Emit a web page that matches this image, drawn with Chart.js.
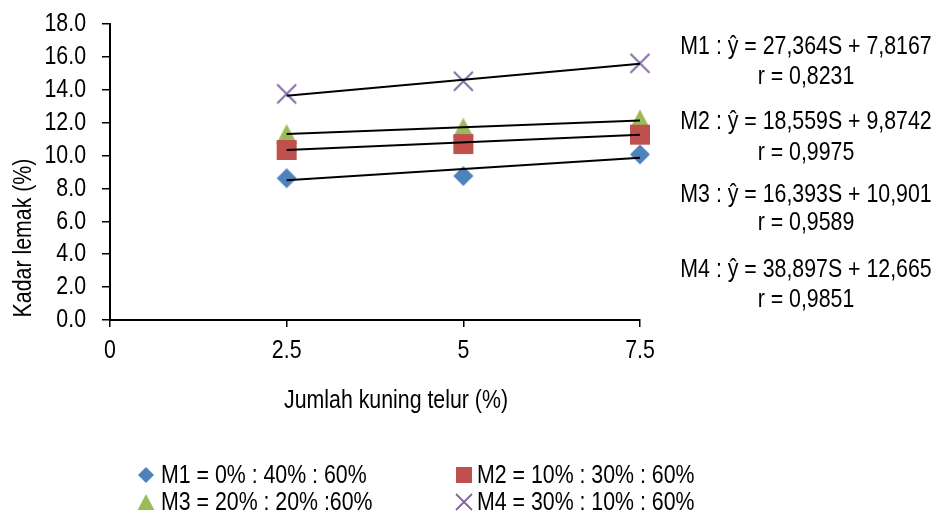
<!DOCTYPE html>
<html>
<head>
<meta charset="utf-8">
<script src="https://cdn.jsdelivr.net/npm/chart.js@4.4.1/dist/chart.umd.min.js"></script>
<style>
  html, body { margin: 0; padding: 0; background: #ffffff; }
  #wrap { position: relative; width: 941px; height: 516px; }
</style>
</head>
<body>
<div id="wrap"><canvas id="fatChart"></canvas></div>
<script>
// Egg yolk amount (%) on the x axis
const eggYolk = [2.5, 5, 7.5];

// Fat content (%) per formulation
const m1Fat = [8.62, 8.76, 10.07];
const m2Fat = [10.34, 10.70, 11.27];
const m3Fat = [11.31, 11.70, 12.20];
const m4Fat = [13.75, 14.52, 15.61];

const seriesNames = ['M1 = 0% : 40% : 60%', 'M2 = 10% : 30% : 60%', 'M3 = 20% : 20% :60%', 'M4 = 30% : 10% : 60%'];
const seriesCodes = ['M1', 'M2', 'M3', 'M4'];

// Linear regressions: ŷ = slope·S + intercept, S as a fraction
const slopes = [27.364, 18.559, 16.393, 38.897];
const intercepts = [7.8167, 9.8742, 10.901, 12.665];
const rValues = [0.8231, 0.9975, 0.9589, 0.9851];

const xTicks = [0, 2.5, 5, 7.5];
const yTicks = [0, 2, 4, 6, 8, 10, 12, 14, 16, 18];

const colors = ['#4F81BD', '#C0504D', '#9BBB59', '#8064A2'];
const markerKinds = ['diamond', 'square', 'triangle', 'cross'];
const FONT = '"Liberation Sans", Arial, sans-serif';
const FONT_SIZE = 26;
const NARROW = 0.82;   // condensed rendering of the sans face

// Build a marker bitmap centred on its own bounding box
function makeMarker(kind, color, size) {
  const pad = 2;
  const c = document.createElement('canvas');
  c.width = size + pad * 2;
  c.height = size + pad * 2;
  const g = c.getContext('2d');
  const cx = c.width / 2, cy = c.height / 2, h = size / 2;
  g.fillStyle = color;
  g.strokeStyle = color;
  g.beginPath();
  if (kind === 'diamond') {
    g.moveTo(cx, cy - h); g.lineTo(cx + h, cy); g.lineTo(cx, cy + h); g.lineTo(cx - h, cy);
    g.closePath(); g.fill();
  } else if (kind === 'square') {
    g.rect(cx - h, cy - h, size, size); g.fill();
  } else if (kind === 'triangle') {
    g.moveTo(cx, cy - h); g.lineTo(cx + h * 1.05, cy + h); g.lineTo(cx - h * 1.05, cy + h);
    g.closePath(); g.fill();
  } else {
    g.lineWidth = 1.8;
    g.moveTo(cx - h, cy - h); g.lineTo(cx + h, cy + h);
    g.moveTo(cx + h, cy - h); g.lineTo(cx - h, cy + h);
    g.stroke();
  }
  return c;
}

const plotMarkers = markerKinds.map((k, i) => makeMarker(k, colors[i], k === 'cross' ? 19 : 20));
const legendMarkers = markerKinds.map((k, i) => makeMarker(k, colors[i], 16));

const fatSeries = [m1Fat, m2Fat, m3Fat, m4Fat];

const pointSets = fatSeries.map((vals, i) => ({
  type: 'scatter',
  label: seriesNames[i],
  data: eggYolk.map((x, j) => ({ x: x, y: vals[j] })),
  pointStyle: plotMarkers[i],
  pointRadius: 10,
  pointHoverRadius: 10,
  showLine: false,
  clip: false,
  order: 2
}));

const trendSets = slopes.map((b, i) => {
  const x0 = eggYolk[0], x1 = eggYolk[eggYolk.length - 1];
  return {
    type: 'line',
    label: seriesCodes[i] + ' trend',
    data: [
      { x: x0, y: b * x0 / 100 + intercepts[i] },
      { x: x1, y: b * x1 / 100 + intercepts[i] }
    ],
    borderColor: '#000000',
    borderWidth: 2,
    pointRadius: 0,
    fill: false,
    clip: false,
    order: 1
  };
});

const fmt = (v) => String(v).replace('.', ',');
const equationLines = [];
slopes.forEach((b, i) => {
  equationLines.push(seriesCodes[i] + ' : ŷ = ' + b.toFixed(3).replace('.', ',') + 'S + ' + fmt(intercepts[i]));
  equationLines.push('r = ' + rValues[i].toFixed(4).replace('.', ','));
});
const equationY = [47, 77, 122, 153, 195, 223, 270, 300];

// Condensed text: the face is squeezed horizontally around its anchor point
function narrowText(ctx, text, x, y, align, angle) {
  ctx.save();
  ctx.translate(x, y);
  if (angle) ctx.rotate(angle);
  ctx.scale(NARROW, 1);
  ctx.textAlign = align;
  ctx.fillText(text, 0, 0);
  ctx.restore();
}

const annotations = {
  id: 'annotations',
  afterDraw(chart) {
    const ctx = chart.ctx;
    const xs = chart.scales.x, ys = chart.scales.y;
    ctx.save();
    ctx.fillStyle = '#000000';
    ctx.font = FONT_SIZE + 'px ' + FONT;
    ctx.textBaseline = 'middle';

    // tick labels, placed by the scales
    ys.ticks.forEach(t => narrowText(ctx, Number(t.value).toFixed(1), 86, ys.getPixelForValue(t.value), 'right'));
    xs.ticks.forEach(t => narrowText(ctx, String(t.value), xs.getPixelForValue(t.value), 351, 'center'));

    // axis titles
    narrowText(ctx, 'Jumlah kuning telur (%)', 396, 401, 'center');
    narrowText(ctx, 'Kadar lemak (%)', 24, 238, 'center', -Math.PI / 2);

    // regression equations
    equationLines.forEach((t, k) => narrowText(ctx, t, 806, equationY[k], 'center'));

    // legend, two columns
    const cols = [146, 464];
    const rows = [475, 502];
    const textX = [161, 477];
    seriesNames.forEach((name, i) => {
      const col = i % 2, row = Math.floor(i / 2);
      const m = legendMarkers[i];
      ctx.drawImage(m, cols[col] - m.width / 2, rows[row] - m.height / 2);
      narrowText(ctx, name, textX[col], rows[row] + 1, 'left');
    });
    ctx.restore();
  }
};

new Chart(document.getElementById('fatChart'), {
  data: { datasets: [...trendSets, ...pointSets] },
  options: {
    responsive: true,
    maintainAspectRatio: false,
    animation: false,
    layout: { padding: { left: 0, right: 301, top: 24, bottom: 0 } },
    plugins: { legend: { display: false }, tooltip: { enabled: false } },
    scales: {
      x: {
        type: 'linear',
        min: 0,
        max: 7.5,
        afterBuildTicks: (s) => { s.ticks = xTicks.map(v => ({ value: v })); },
        afterFit: (s) => { s.height = 196; },
        ticks: { display: false, autoSkip: false },
        grid: { drawOnChartArea: false, drawTicks: true, tickLength: 7, color: '#000000', lineWidth: 1.5 },
        border: { color: '#000000', width: 2 }
      },
      y: {
        type: 'linear',
        min: 0,
        max: 18,
        afterBuildTicks: (s) => { s.ticks = yTicks.map(v => ({ value: v })); },
        afterFit: (s) => { s.width = 110; },
        ticks: { display: false, autoSkip: false },
        grid: { drawOnChartArea: false, drawTicks: true, tickLength: 8, color: '#000000', lineWidth: 1.5 },
        border: { color: '#000000', width: 2 }
      }
    }
  },
  plugins: [annotations]
});
</script>
</body>
</html>
